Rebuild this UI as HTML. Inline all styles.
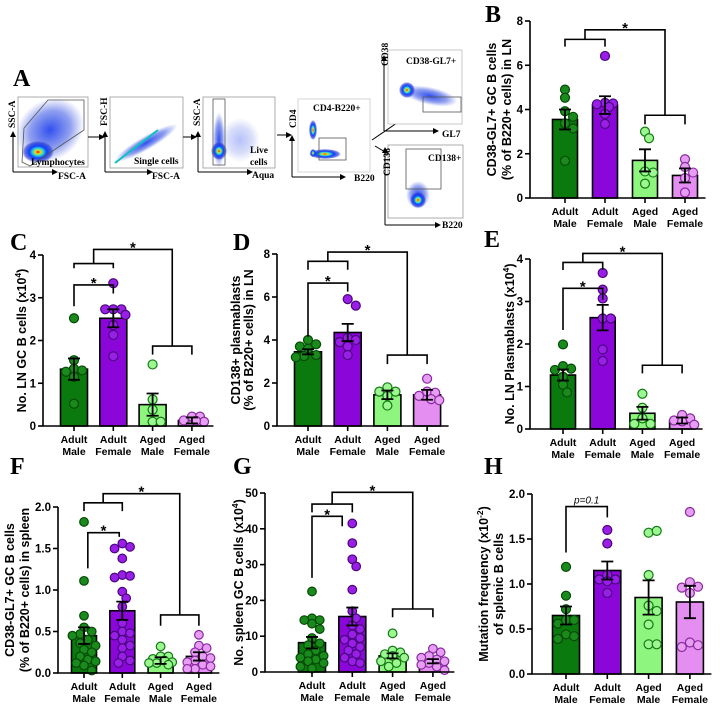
<!DOCTYPE html>
<html><head><meta charset="utf-8"><style>
html,body{margin:0;padding:0;background:#fff;}
svg{display:block;font-family:"Liberation Sans",Arial,sans-serif;}
.lt{font-family:"Liberation Serif",serif;font-weight:bold;font-size:24px;}
.fl{font-family:"Liberation Serif",serif;font-weight:bold;font-size:9.5px;}
</style></head><body>
<svg id="fig" width="720" height="709" viewBox="0 0 720 709" xmlns="http://www.w3.org/2000/svg">
<defs>
<radialGradient id="heat" cx="50%" cy="50%" r="50%">
<stop offset="0" stop-color="#d40000"/><stop offset="0.15" stop-color="#ffd000"/><stop offset="0.32" stop-color="#30e0d0"/><stop offset="0.55" stop-color="#1040ff"/><stop offset="0.85" stop-color="#2030d0" stop-opacity="0.6"/><stop offset="1" stop-color="#2030d0" stop-opacity="0"/>
</radialGradient>
<radialGradient id="cloud" cx="50%" cy="50%" r="50%">
<stop offset="0" stop-color="#1a3cf0" stop-opacity="0.9"/><stop offset="0.6" stop-color="#2040e0" stop-opacity="0.5"/><stop offset="1" stop-color="#3050e0" stop-opacity="0"/>
</radialGradient>
<marker id="ar" markerWidth="6" markerHeight="6" refX="5" refY="3" orient="auto"><path d="M0,0 L6,3 L0,6 z" fill="#000"/></marker>
</defs>
<g id="panelA">
<text class="lt" x="13" y="86">A</text>
<g>
<rect x="18" y="97" width="70" height="70" fill="#fff" stroke="#999" stroke-width="0.8"/>
<ellipse cx="50" cy="130" rx="36" ry="30" fill="url(#cloud)" transform="rotate(-35 50 130)"/>
<ellipse cx="38" cy="152" rx="16" ry="11" fill="url(#heat)"/>
<polygon points="22,162 24,128 48,100 84,100 84,130 30,166" fill="none" stroke="#555" stroke-width="0.8"/>
<line x1="13" y1="172" x2="13" y2="132" stroke="#000" marker-end="url(#ar)"/>
<line x1="13" y1="172" x2="57" y2="172" stroke="#000" marker-end="url(#ar)"/>
<text class="fl" transform="translate(15,128) rotate(-90)">SSC-A</text>
<text class="fl" x="58" y="179">FSC-A</text>
<text class="fl" x="31" y="165">Lymphocytes</text>
</g>
<line x1="88" y1="137" x2="104" y2="137" stroke="#000" marker-end="url(#ar)"/>
<g>
<rect x="110" y="97" width="73" height="71" fill="#fff" stroke="#999" stroke-width="0.8"/>
<ellipse cx="146" cy="143" rx="36" ry="7" fill="url(#cloud)" transform="rotate(-30 146 143)"/>
<line x1="115" y1="163" x2="158" y2="130" stroke="#10c0c0" stroke-width="2"/>
<line x1="105" y1="172" x2="105" y2="132" stroke="#000" marker-end="url(#ar)"/>
<line x1="105" y1="172" x2="152" y2="172" stroke="#000" marker-end="url(#ar)"/>
<text class="fl" transform="translate(107,126) rotate(-90)">FSC-H</text>
<text class="fl" x="152" y="179">FSC-A</text>
<text class="fl" x="134" y="164">Single cells</text>
</g>
<line x1="183" y1="137" x2="196" y2="137" stroke="#000" marker-end="url(#ar)"/>
<g>
<rect x="203" y="97" width="72" height="71" fill="#fff" stroke="#999" stroke-width="0.8"/>
<ellipse cx="219" cy="140" rx="6" ry="28" fill="url(#cloud)"/>
<ellipse cx="219" cy="151" rx="8" ry="9" fill="url(#heat)"/>
<ellipse cx="240" cy="140" rx="20" ry="22" fill="url(#cloud)" opacity="0.35"/>
<rect x="213" y="99" width="12" height="66" fill="none" stroke="#555" stroke-width="0.8"/>
<line x1="198" y1="172" x2="198" y2="132" stroke="#000" marker-end="url(#ar)"/>
<line x1="198" y1="172" x2="252" y2="172" stroke="#000" marker-end="url(#ar)"/>
<text class="fl" transform="translate(200,126) rotate(-90)">SSC-A</text>
<text class="fl" x="252" y="178">Aqua</text>
<text class="fl" x="250" y="153">Live</text>
<text class="fl" x="250" y="165">cells</text>
</g>
<line x1="277" y1="135" x2="291" y2="135" stroke="#000" marker-end="url(#ar)"/>
<g>
<rect x="298" y="99" width="72" height="73" fill="#fff" stroke="#ccc" stroke-width="0.8"/>
<ellipse cx="313" cy="130" rx="4" ry="10" fill="url(#heat)"/>
<ellipse cx="325" cy="154" rx="16" ry="5" fill="url(#heat)"/>
<ellipse cx="313" cy="153" rx="3" ry="4" fill="url(#heat)"/>
<rect x="319" y="138" width="27" height="22" fill="none" stroke="#555" stroke-width="0.8"/>
<line x1="292" y1="177" x2="292" y2="136" stroke="#000" marker-end="url(#ar)"/>
<line x1="292" y1="177" x2="345" y2="177" stroke="#000" marker-end="url(#ar)"/>
<text class="fl" transform="translate(296,128) rotate(-90)">CD4</text>
<text class="fl" x="313" y="111">CD4-B220+</text>
<text class="fl" x="354" y="181">B220</text>
</g>
<line x1="372" y1="140" x2="410" y2="114" stroke="#000" marker-end="url(#ar)"/>
<line x1="375" y1="146" x2="400" y2="161" stroke="#000" marker-end="url(#ar)"/>
<g>
<rect x="388" y="50" width="74" height="74" fill="#fff" stroke="#bbb" stroke-width="0.8"/>
<ellipse cx="430" cy="96" rx="28" ry="9" fill="url(#cloud)" transform="rotate(12 430 96)"/>
<ellipse cx="407" cy="90" rx="8" ry="8" fill="url(#heat)"/>
<rect x="423" y="97" width="38" height="15" fill="none" stroke="#555" stroke-width="0.8"/>
<line x1="384" y1="131" x2="384" y2="56" stroke="#000" marker-end="url(#ar)"/>
<line x1="384" y1="131" x2="438" y2="131" stroke="#000" marker-end="url(#ar)"/>
<text class="fl" transform="translate(388,66) rotate(-90)">CD38</text>
<text class="fl" x="406" y="64">CD38-GL7+</text>
<text class="fl" x="442" y="137">GL7</text>
</g>
<g>
<rect x="388" y="145" width="75" height="73" fill="#fff" stroke="#999" stroke-width="0.8"/>
<ellipse cx="418" cy="195" rx="12" ry="14" fill="url(#cloud)"/>
<ellipse cx="418" cy="200" rx="8" ry="8" fill="url(#heat)"/>
<rect x="406" y="149" width="35" height="40" fill="none" stroke="#555" stroke-width="0.8"/>
<line x1="385" y1="225" x2="385" y2="148" stroke="#000" marker-end="url(#ar)"/>
<line x1="385" y1="225" x2="440" y2="225" stroke="#000" marker-end="url(#ar)"/>
<text class="fl" transform="translate(390,176) rotate(-90)">CD138</text>
<text class="fl" x="428" y="161">CD138+</text>
<text class="fl" x="442" y="228">B220</text>
</g>
</g>
</svg>
<script>
const catTop = ["Adult","Adult","Aged","Aged"];
const catBottom = ["Male","Female","Male","Female"];
// ----- Panel B -----
const bMeans = [3.55, 4.2, 1.7, 1.02];
const bSem = [0.45, 0.4, 0.5, 0.32];
const bPts0 = [4.9,4.53,3.92,3.67,3.37,3.14,1.68];
const bPts1 = [6.42,4.3,4.27,4.24,4.12,3.8,3.35];
const bPts2 = [3.0,2.7,1.2,1.15,0.65];
const bPts3 = [1.75,1.4,1.15,0.9,0.25];
const bTicks = [0,2,4,6,8];
// ----- Panel C -----
const cMeans = [1.33, 2.52, 0.5, 0.13];
const cSem = [0.25, 0.21, 0.26, 0.07];
const cPts0 = [2.52,1.54,1.34,1.3,1.27,1.15,0.52];
const cPts1 = [3.34,2.73,2.73,2.73,2.6,2.36,2.13,1.63];
const cPts2 = [1.44,0.62,0.38,0.1,0.1];
const cPts3 = [0.22,0.22,0.13,0.1,0.12];
const cTicks = [0,1,2,3,4];
// ----- Panel D -----
const dMeans = [3.45, 4.35, 1.45, 1.45];
const dSem = [0.12, 0.4, 0.2, 0.23];
const dPts0 = [4.0,3.8,3.7,3.6,3.3,3.25,3.2];
const dPts1 = [5.9,5.6,4.1,4.0,3.9,3.7,3.3];
const dPts2 = [1.8,1.6,1.6,1.4,0.95];
const dPts3 = [2.2,1.6,1.55,1.4,1.25,1.2];
const dTicks = [0,2,4,6,8];
// ----- Panel E -----
const eMeans = [1.27, 2.62, 0.37, 0.2];
const eSem = [0.13, 0.3, 0.15, 0.07];
const ePts0 = [1.99,1.48,1.42,1.39,1.23,1.04,0.86];
const ePts1 = [3.67,3.28,3.07,2.6,2.6,1.87,1.6];
const ePts2 = [0.83,0.5,0.25,0.12,0.12];
const ePts3 = [0.33,0.25,0.2,0.18,0.1];
const eTicks = [0,1,2,3,4];
// ----- Panel F -----
const fMeans = [0.45, 0.75, 0.15, 0.2];
const fSem = [0.1, 0.11, 0.04, 0.05];
const fPts0 = [1.82,1.11,0.69,0.55,0.5,0.47,0.45,0.4,0.36,0.33,0.28,0.25,0.2,0.16,0.14,0.12,0.09,0.03];
const fPts1 = [1.56,1.52,1.5,1.38,1.18,1.17,1.15,0.98,0.9,0.8,0.6,0.5,0.48,0.45,0.4,0.33,0.3,0.2,0.15,0.12];
const fPts2 = [0.32,0.2,0.2,0.17,0.15,0.13,0.12,0.12,0.1];
const fPts3 = [0.46,0.33,0.3,0.25,0.2,0.18,0.15,0.13,0.1,0.08,0.05,0.05];
const fTicks = [0,0.5,1.0,1.5,2.0];
// ----- Panel G -----
const gMeans = [8.2, 15.5, 4.5, 3.0];
const gSem = [1.6, 2.5, 0.7, 0.6];
const gPts0 = [22.5,15,14.5,14.5,13.5,12,9.5,8,7.5,6,5,4.5,4,3.5,3,2.5,1.5,1];
const gPts1 = [41.5,36,31.5,29.5,23,17,15,13,12,10.5,9.5,9,8,7,6,5,4,3,2.5];
const gPts2 = [10.8,6,5.5,5,4.5,4,3,2.5,1.5];
const gPts3 = [6.5,5.5,4.5,4,3.5,3,2.5,2,1.5,0.5];
const gTicks = [0,10,20,30,40,50];
// ----- Panel H -----
const hMeans = [0.65, 1.15, 0.85, 0.8];
const hSem = [0.1, 0.1, 0.19, 0.18];
const hPts0 = [1.19,0.87,0.72,0.6,0.6,0.56,0.44,0.42,0.39];
const hPts1 = [1.6,1.45,1.1,1.05,1.05,1.03,0.9];
const hPts2 = [1.57,1.59,1.1,0.76,0.7,0.55,0.33,0.33];
const hPts3 = [1.8,1.02,0.97,0.96,0.9,0.35,0.32,0.3];
const hTicks = [0,0.5,1.0,1.5,2.0];

const NS = "http://www.w3.org/2000/svg";
const svg = document.getElementById('fig');
const barFill = ["#0b7a0e","#8b06d8","#8ef57f","#e38ef0"];
const dotFill = ["#1a8a1c","#9a1fe6","#9cf790","#e79df3"];
const dotStroke = ["#054a06","#4a0580","#137a15","#8a2aa0"];

function mk(tag, attrs, parent){
  const e = document.createElementNS(NS, tag);
  for (const k in attrs) e.setAttribute(k, attrs[k]);
  (parent || svg).appendChild(e);
  return e;
}

function panel(cfg, means, sem, pts, ticks){
  const g = mk('g', {});
  
  
  const y = v => cfg.y0 - (v / cfg.yMax) * (cfg.y0 - cfg.y1);
  const cx = i => cfg.c0 + i * cfg.step;
  const bw = cfg.bw;
  const L = mk('text', {x: cfg.lx, y: cfg.ly, class: 'lt'}, g);
  L.textContent = cfg.letter;
  
  
  means.forEach((m, i) => {
    const r = mk('rect', {x: cx(i) - bw/2, y: y(m), width: bw, height: cfg.y0 - y(m), fill: barFill[i], stroke: '#000', 'stroke-width': 1.6}, g);
    
    
  });
  const rad = cfg.r;
  const maxOff = bw/2 + 1;
  pts.forEach((arr, i) => {
    const placed = [];
    arr.forEach(v => {
      const py = y(v);
      const cands = [0];
      for (let s = 1; s < 8; s++) { cands.push(s * rad * 0.9); cands.push(-s * rad * 0.9); }
      let best = 0, bestD = -1;
      for (let k = 0; k < cands.length; k++) {
        if (Math.abs(cands[k]) > maxOff) continue;
        const px = cx(i) + cands[k];
        const d = placed.length ? Math.min(...placed.map(p => Math.hypot(p[0]-px, p[1]-py))) : 1e9;
        if (d >= rad * 1.7) { best = cands[k]; bestD = d; break; }
        if (d > bestD) { bestD = d; best = cands[k]; }
      }
      placed.push([cx(i) + best, py]);
      const c = mk('circle', {cx: cx(i) + best, cy: py, r: rad, fill: dotFill[i], stroke: dotStroke[i], 'stroke-width': 1.2}, g);
      
      
    });
  });
  means.forEach((m, i) => {
    const e = mk('path', {d: `M${cx(i)},${y(m-sem[i])}V${y(m+sem[i])}M${cx(i)-6},${y(m+sem[i])}H${cx(i)+6}M${cx(i)-6},${y(m-sem[i])}H${cx(i)+6}`, stroke: '#000', 'stroke-width': 1.8, fill: 'none'}, g);
    
    
  });
  const ax = mk('path', {d: `M${cfg.x0},${y(cfg.yMax)}V${cfg.y0}H${cx(3)+bw/2+8}`, stroke: '#000', 'stroke-width': 1.6, fill: 'none'}, g);
  
  
  ticks.forEach(t => {
    mk('line', {x1: cfg.x0 - 5, x2: cfg.x0, y1: y(t), y2: y(t), stroke: '#000', 'stroke-width': 1.6}, g);
    const tl = mk('text', {x: cfg.x0 - 7, y: y(t) + 4, 'text-anchor': 'end', 'font-size': 11.5, 'font-weight': 'bold'}, g);
    tl.textContent = cfg.dec ? t.toFixed(1) : String(t);
    
    
  });
  for (let i = 0; i < 4; i++) {
    mk('line', {x1: cx(i), x2: cx(i), y1: cfg.y0, y2: cfg.y0 + 5, stroke: '#000', 'stroke-width': 1.6}, g);
    const t1 = mk('text', {x: cx(i), y: cfg.y0 + 17, 'text-anchor': 'middle', 'font-size': 10.5, 'font-weight': 'bold'}, g);
    t1.textContent = catTop[i];
    
    
    const t2 = mk('text', {x: cx(i), y: cfg.y0 + 29, 'text-anchor': 'middle', 'font-size': 10.5, 'font-weight': 'bold'}, g);
    t2.textContent = catBottom[i];
    
    
  }
  const my = (y(0) + y(cfg.yMax)) / 2;
  cfg.ylab.forEach((s, j) => {
    const t = mk('text', {transform: `translate(${cfg.ylx[j]},${my}) rotate(-90)`, 'text-anchor': 'middle', 'font-size': cfg.yfs || 12.5, 'font-weight': 'bold'}, g);
    if (s.sup) { t.textContent = s.txt; const ts = mk('tspan', {dy: -5, 'font-size': 8.5}, t); ts.textContent = s.sup; const t3 = mk('tspan', {dy: 5}, t); t3.textContent = ')'; }
    else t.textContent = s.txt;
    
    
  });
  (cfg.br || []).forEach(b => {
    const p = mk('path', {d: `M${cx(b[0])},${y(b[3])}V${y(b[2])}H${cx(b[1])}V${y(b[4])}`, stroke: '#000', 'stroke-width': 1.6, fill: 'none'}, g);
    
    
    if (b[5]) {
      const st = mk('text', {x: (cx(b[0]) + cx(b[1])) / 2, y: y(b[2]) - 3 + (b[5]==='*'?6:0), 'text-anchor': 'middle', 'font-size': b[5]==='*'?15:10, 'font-weight': b[5]==='*'?'bold':'normal', 'font-style': b[5]==='*'?'normal':'italic'}, g);
      st.textContent = b[5];
      
      
    }
  });
}

panel({name:'panel-b-ln-gc-percent', letter:'B', lx:485, ly:22, x0:530, y0:198, y1:21, yMax:8, c0:565, step:40, bw:25, r:4.5,
  ylab:[{txt:'CD38-GL7+ GC B cells'},{txt:'(% of B220+ cells) in LN'}], ylx:[496,511],
  br:[[0,1,7.17,6.84,6.84,''],[0.5,2.5,7.6,7.17,3.74,'*'],[2,3,3.74,3.33,3.33,'']]},
  bMeans, bSem, [bPts0,bPts1,bPts2,bPts3], bTicks);
panel({name:'panel-c-ln-gc-number', letter:'C', lx:10, ly:250, x0:43, y0:426, y1:255, yMax:4, c0:74, step:39.3, bw:27, r:4.5,
  ylab:[{txt:'No. LN GC B cells (x10', sup:'4'}], ylx:[26],
  br:[[0,1,3.3,2.8,3.1,'*'],[0,1,3.8,3.69,3.69,''],[0.5,2.5,4.13,3.8,1.87,'*'],[2,3,1.87,1.67,1.67,'']]},
  cMeans, cSem, [cPts0,cPts1,cPts2,cPts3], cTicks);
panel({name:'panel-d-ln-plasmablast-percent', letter:'D', lx:233, ly:250, x0:277, y0:426, y1:254, yMax:8, c0:308, step:39.7, bw:27, r:4.5,
  ylab:[{txt:'CD138+ plasmablasts'},{txt:'(% of B220+ cells) in LN'}], ylx:[240,253],
  br:[[0,1,6.65,4.15,6.25,'*'],[0,1,7.66,7.27,7.27,''],[0.5,2.5,8.09,7.66,3.3,'*'],[2,3,3.3,2.88,2.88,'']]},
  dMeans, dSem, [dPts0,dPts1,dPts2,dPts3], dTicks);
panel({name:'panel-e-ln-plasmablast-number', letter:'E', lx:484, ly:247, x0:530, y0:429, y1:259, yMax:4, c0:563, step:39.7, bw:25, r:4.5,
  ylab:[{txt:'No. LN Plasmablasts (x10', sup:'4'}], ylx:[514],
  br:[[0,1,3.31,2.33,3.04,'*'],[0,1,3.92,3.74,3.74,''],[0.5,2.5,4.13,3.92,1.5,'*'],[2,3,1.5,1.31,1.31,'']]},
  eMeans, eSem, [ePts0,ePts1,ePts2,ePts3], eTicks);
panel({name:'panel-f-spleen-gc-percent', letter:'F', lx:10, ly:474, x0:58, y0:673, y1:507, yMax:2, dec:true, c0:84, step:38.3, bw:25, r:4.3,
  ylab:[{txt:'CD38-GL7+ GC B cells'},{txt:'(% of B220+ cells) in spleen'}], ylx:[14,29],
  br:[[0.1,0.92,1.69,1.26,1.64,'*'],[0,1,2.05,1.95,1.95,''],[0.5,2.5,2.16,2.05,0.7,'*'],[2,3,0.7,0.57,0.57,'']]},
  fMeans, fSem, [fPts0,fPts1,fPts2,fPts3], fTicks);
panel({name:'panel-g-spleen-gc-number', letter:'G', lx:233, ly:474, x0:265, y0:672, y1:493, yMax:50, c0:312, step:40.3, bw:27, r:4.3,
  ylab:[{txt:'No. spleen GC B cells (x10', sup:'4'}], ylx:[243],
  br:[[0,0.75,43.5,26.3,40.7,'*'],[0,1,46.9,44.6,44.6,''],[0.5,2.5,50.2,46.9,17.6,'*'],[2,3,17.6,15.3,15.3,'']]},
  gMeans, gSem, [gPts0,gPts1,gPts2,gPts3], gTicks);
panel({name:'panel-h-mutation-frequency', letter:'H', lx:484, ly:474, x0:532, y0:674, y1:494, yMax:2, dec:true, c0:566, step:41.3, bw:27, r:4.5,
  ylab:[{txt:'Mutation frequency (x10', sup:'-2'},{txt:'of splenic B cells'}], ylx:[488,503],
  br:[[0,1,1.86,1.35,1.74,'p=0.1']]},
  hMeans, hSem, [hPts0,hPts1,hPts2,hPts3], hTicks);
</script>
</body></html>
